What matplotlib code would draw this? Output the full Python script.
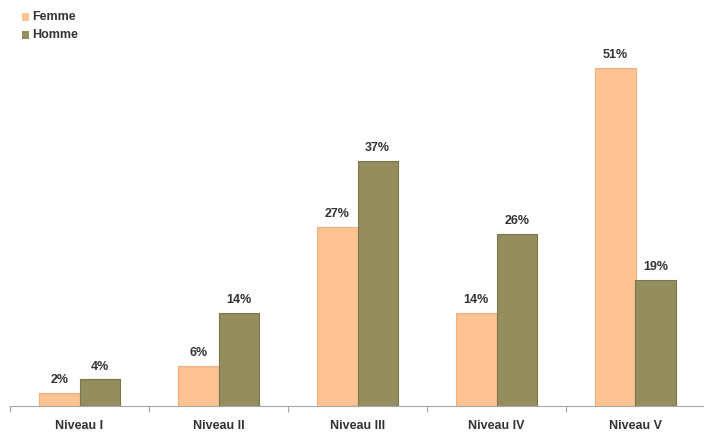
import matplotlib
matplotlib.use("Agg")
import matplotlib.pyplot as plt
from matplotlib.patches import Rectangle

categories = ["Niveau I", "Niveau II", "Niveau III", "Niveau IV", "Niveau V"]
femme = [2, 6, 27, 14, 51]
homme = [4, 14, 37, 26, 19]
series_names = ["Femme", "Homme"]

c_femme = "#FDC392"
c_homme = "#948D5E"
e_femme = "#EDB07E"
e_homme = "#7A7548"

plt.rcParams['font.family'] = ['Liberation Sans', 'DejaVu Sans']

fig = plt.figure(figsize=(7.04, 4.32), dpi=100)
ax = fig.add_axes([10/704, 26/432, 695/704, 406/432])

w = 0.29
x = list(range(len(categories)))
bf = ax.bar([i - w/2 for i in x], femme, width=w, color=c_femme, edgecolor=e_femme, linewidth=0.8)
bh = ax.bar([i + w/2 for i in x], homme, width=w, color=c_homme, edgecolor=e_homme, linewidth=0.8)

for bars, vals in ((bf, femme), (bh, homme)):
    for b, v in zip(bars, vals):
        ax.annotate(f"{v}%", (b.get_x() + b.get_width()/2, v), xytext=(0, 5),
                    textcoords="offset points", ha="center", va="bottom",
                    fontsize=9, fontweight="bold", color="#333333")

ax.set_xlim(-0.5, len(categories) - 0.5)
ax.set_ylim(0, 61.2)
ax.set_yticks([])
for s in ("top", "right", "left"):
    ax.spines[s].set_visible(False)
ax.spines["bottom"].set_color("#A6A6A6")
ax.spines["bottom"].set_linewidth(0.8)

ax.set_xticks([i - 0.5 for i in range(len(categories) + 1)])
ax.set_xticklabels([])
ax.tick_params(axis="x", length=4, color="#A6A6A6", width=0.8)
ax.set_xticks(x, minor=True)
ax.set_xticklabels(categories, minor=True, fontsize=9, fontweight="bold", color="#333333")
ax.tick_params(axis="x", which="minor", length=0, pad=10)

# legend
for i, (name, col) in enumerate(zip(series_names, [c_femme, c_homme])):
    y = 432 - (17 + 18*i)
    fig.patches.append(Rectangle((22/704, (y - 3.5)/432), 7/704, 7/432, transform=fig.transFigure,
                                 facecolor=col, edgecolor="none"))
    fig.text(32/704, y/432, name, fontsize=9, fontweight="bold", color="#333333", va="center", ha="left")

fig.savefig("out.png", dpi=100)
